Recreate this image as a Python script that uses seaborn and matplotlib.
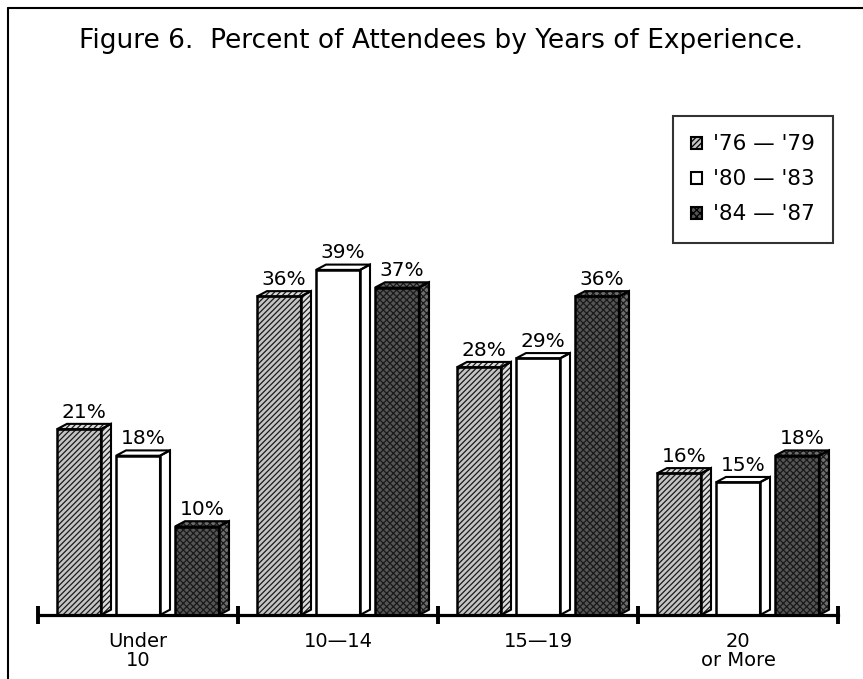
import numpy as np
import pandas as pd
import matplotlib
matplotlib.use("Agg")
import matplotlib.pyplot as plt
from matplotlib.patches import Polygon, Rectangle, Patch
from matplotlib.lines import Line2D
import seaborn as sns

# ---- data ----
categories = ["Under\n10", "10\u201414", "15\u201419", "20\nor More"]
periods = ["'76 \u2014 '79", "'80 \u2014 '83", "'84 \u2014 '87"]
vals_76_79 = [21, 36, 28, 16]
vals_80_83 = [18, 39, 29, 15]
vals_84_87 = [10, 37, 36, 18]
title = "Figure 6.  Percent of Attendees by Years of Experience."

rows = []
for p, vals in zip(periods, [vals_76_79, vals_80_83, vals_84_87]):
    for c, v in zip(categories, vals):
        rows.append({"group": c, "period": p, "pct": v})
df = pd.DataFrame(rows)

sns.set_theme(style="white")
plt.rcParams['font.family'] = ['DejaVu Sans']
plt.rcParams['text.color'] = 'black'
plt.rcParams['hatch.linewidth'] = 0.9

W, H = 863, 679
fig = plt.figure(figsize=(W / 100, H / 100), dpi=100)
ax = fig.add_axes([38 / W, 64 / H, (838 - 38) / W, (615 - 100) / H])

face = ["#c4c4c4", "#ffffff", "#555555"]
hatch = ["//////", None, "xxxxx"]
hcol = ["#1a1a1a", "black", "#1a1a1a"]
side_face = ["#dcdcdc", "#ffffff", "#6e6e6e"]

sns.barplot(data=df, x="group", y="pct", hue="period", order=categories,
            hue_order=periods, palette=face, width=0.885, gap=0.254,
            linewidth=0, ax=ax, legend=False, errorbar=None)

dx, dy = 0.05, 0.6
for i, cont in enumerate(ax.containers):
    for patch in cont.patches:
        patch.set_facecolor(face[i])
        patch.set_edgecolor(hcol[i])
        patch.set_linewidth(0)
        if hatch[i]:
            patch.set_hatch(hatch[i])
        x0, w, h = patch.get_x(), patch.get_width(), patch.get_height()
        ax.add_patch(Rectangle((x0, 0), w, h, fill=False, edgecolor="black",
                               linewidth=1.8, zorder=4))
        side = Polygon([(x0 + w, 0), (x0 + w + dx, dy), (x0 + w + dx, h + dy), (x0 + w, h)],
                       closed=True, facecolor=side_face[i], edgecolor=hcol[i],
                       linewidth=0, hatch=hatch[i], zorder=3)
        top = Polygon([(x0, h), (x0 + dx, h + dy), (x0 + w + dx, h + dy), (x0 + w, h)],
                      closed=True, facecolor=side_face[i], edgecolor=hcol[i],
                      linewidth=0, hatch=hatch[i], zorder=3)
        ax.add_patch(side)
        ax.add_patch(top)
        for poly in (side, top):
            ax.add_patch(Polygon(poly.get_xy(), closed=True, fill=False,
                                 edgecolor="black", linewidth=1.5, zorder=4))
        ax.text(x0 + w / 2 + dx / 2, h + dy + 0.25, f"{int(round(h))}%",
                ha="center", va="bottom", fontsize=14.5, color="black")

ax.set_xlim(-0.5, 3.5)
ax.set_ylim(0, 58.2)
ax.set_xlabel("")
ax.set_ylabel("")
ax.set_yticks([])
ax.set_xticks([-0.5, 0.5, 1.5, 2.5, 3.5])
ax.set_xticklabels([])
ax.set_xticks([0, 1, 2, 3], categories, minor=True)
ax.tick_params(axis="x", which="major", direction="inout", length=13, width=2.8,
               color="black", bottom=True)
ax.tick_params(axis="x", which="minor", length=0, pad=12, labelsize=14,
               labelcolor="black")
for lab in ax.get_xticklabels(minor=True):
    lab.set_linespacing(1.05)
for s in ["top", "left", "right"]:
    ax.spines[s].set_visible(False)
ax.spines["bottom"].set_linewidth(2.3)
ax.spines["bottom"].set_color("black")

handles = [Patch(facecolor=face[i], edgecolor="black", hatch=hatch[i], linewidth=1.5)
           for i in range(3)]
leg = ax.legend(handles=handles, labels=periods, loc="upper right",
                bbox_to_anchor=(833 / W, 1 - 116 / H), bbox_transform=fig.transFigure,
                fontsize=15.5, frameon=True, fancybox=False, edgecolor="black",
                handlelength=0.5, handleheight=0.5, handletextpad=0.5,
                labelspacing=0.7, borderpad=0.85, borderaxespad=0)
leg.get_frame().set_linewidth(1.5)
for t in leg.get_texts():
    t.set_color("black")

fig.text(441 / W, 1 - 48 / H, title, ha="center", va="baseline", fontsize=19,
         color="black")

fig.add_artist(Line2D([8 / W, 8 / W], [0, 1 - 8 / H], color="black", linewidth=1.5))
fig.add_artist(Line2D([8 / W, 1], [1 - 8 / H, 1 - 8 / H], color="black", linewidth=1.5))

fig.savefig("out.png", dpi=100, facecolor="white")
